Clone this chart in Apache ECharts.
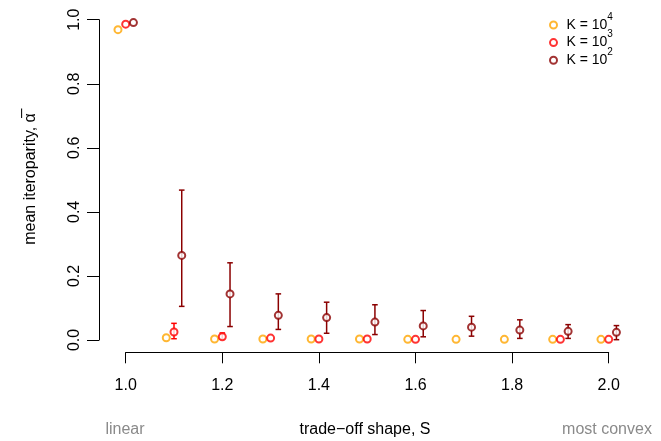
<!DOCTYPE html>
<html>
<head>
<meta charset="utf-8">
<script src="https://cdn.jsdelivr.net/npm/echarts@6/dist/echarts.min.js"></script>
<style>html,body{margin:0;padding:0;background:#fff}#c{width:661px;height:441px}</style>
</head>
<body>
<div id="c"></div>
<script>
// trade-off shape S
const shapeS = [1.0, 1.1, 1.2, 1.3, 1.4, 1.5, 1.6, 1.7, 1.8, 1.9, 2.0];
// K = 10^4 (orange)
const k4Mean = [0.969, 0.007, 0.003, 0.003, 0.003, 0.003, 0.002, 0.002, 0.002, 0.002, 0.002];
// K = 10^3 (red)
const k3Mean = [0.986, 0.025, 0.010, 0.006, 0.003, 0.003, 0.002, null, null, 0.002, 0.002];
const k3Lo   = [null, 0.004, 0.003, null, null, null, null, null, null, null, null];
const k3Hi   = [null, 0.052, 0.022, null, null, null, null, null, null, null, null];
// K = 10^2 (dark red)
const k2Mean = [0.991, 0.264, 0.144, 0.077, 0.070, 0.056, 0.044, 0.040, 0.031, 0.027, 0.024];
const k2Lo   = [null, 0.105, 0.042, 0.033, 0.021, 0.017, 0.010, 0.012, 0.005, 0.005, 0.001];
const k2Hi   = [null, 0.468, 0.241, 0.144, 0.118, 0.110, 0.092, 0.074, 0.063, 0.048, 0.045];
const xTicks = [1.0, 1.2, 1.4, 1.6, 1.8, 2.0];
const yTicks = [0.0, 0.2, 0.4, 0.6, 0.8, 1.0];
const legendNames = ['K4', 'K3', 'K2'];
const legendExp = {K4: '4', K3: '3', K2: '2'};

const dodge = {K4: -0.016, K3: 0, K2: 0.016};
const colors = {K4: '#FFA500', K3: '#FF0000', K2: '#8B0000'};

function pts(name, arr) {
  const out = [];
  arr.forEach((v, i) => { if (v !== null) out.push([shapeS[i] + dodge[name], v]); });
  return out;
}
function bars(name, lo, hi) {
  const out = [];
  lo.forEach((v, i) => { if (v !== null && hi[i] !== null) out.push([shapeS[i] + dodge[name], v, hi[i]]); });
  return out;
}
function errSeries(name, lo, hi) {
  return {
    type: 'custom', name: name + '_err', clip: false, z: 1, silent: true,
    xAxisIndex: 0, yAxisIndex: 0,
    data: bars(name, lo, hi),
    renderItem: function (params, api) {
      const x = api.value(0);
      const a = api.coord([x, api.value(1)]);
      const b = api.coord([x, api.value(2)]);
      const st = {stroke: colors[name], lineWidth: 1.5};
      const cw = 2.8;
      return {type: 'group', children: [
        {type: 'line', shape: {x1: a[0], y1: a[1], x2: b[0], y2: b[1]}, style: st},
        {type: 'line', shape: {x1: a[0] - cw, y1: a[1], x2: a[0] + cw, y2: a[1]}, style: st},
        {type: 'line', shape: {x1: b[0] - cw, y1: b[1], x2: b[0] + cw, y2: b[1]}, style: st}
      ]};
    }
  };
}
function ptSeries(name, arr) {
  return {
    type: 'scatter', name: name, clip: false, z: 3,
    xAxisIndex: 0, yAxisIndex: 0,
    symbol: 'emptyCircle', symbolSize: 7,
    itemStyle: {color: colors[name], borderColor: colors[name], borderWidth: 1.5},
    data: pts(name, arr)
  };
}

const font = 'Liberation Sans, Arial, Helvetica, sans-serif';
const xMin = xTicks[0], xMax = xTicks[xTicks.length - 1];
const chart = echarts.init(document.getElementById('c'), null, {renderer: 'canvas'});
chart.setOption({
  animation: false,
  backgroundColor: '#ffffff',
  grid: [
    {left: 125.7, top: 19.7, width: 483, height: 320.3},
    {left: 125.7, top: 19.7, width: 483, height: 332.6}
  ],
  xAxis: [
    {type: 'value', gridIndex: 0, min: xMin, max: xMax, interval: 0.2, show: false},
    {type: 'value', gridIndex: 1, min: xMin, max: xMax, interval: 0.2,
      axisLine: {show: true, onZero: false, lineStyle: {color: '#000', width: 1}},
      axisTick: {show: true, length: 11, lineStyle: {color: '#000'}},
      splitLine: {show: false},
      axisLabel: {margin: 25, fontSize: 16, color: '#000', fontFamily: font,
        formatter: v => v.toFixed(1)}}
  ],
  yAxis: [
    {type: 'value', gridIndex: 0, min: yTicks[0], max: yTicks[yTicks.length - 1], interval: 0.2,
      offset: 26.7,
      axisLine: {show: true, onZero: false, lineStyle: {color: '#000', width: 1}},
      axisTick: {show: true, length: 12, lineStyle: {color: '#000'}},
      splitLine: {show: false},
      axisLabel: {margin: 16, rotate: 90, fontSize: 16, color: '#000', fontFamily: font,
        formatter: v => v.toFixed(1)}},
    {type: 'value', gridIndex: 1, min: 0, max: 1, show: false}
  ],
  legend: {
    data: legendNames, orient: 'vertical', left: 544, top: 7,
    itemWidth: 16, itemHeight: 7, itemGap: -2.4, symbolKeepAspect: true,
    formatter: n => 'K = 10{s|' + legendExp[n] + '}',
    textStyle: {fontSize: 14, color: '#000', fontFamily: font, lineHeight: 14,
      rich: {s: {fontSize: 10, fontFamily: font, color: '#000', verticalAlign: 'top', lineHeight: 14, padding: [-6, 0, 0, 0]}}}
  },
  series: [
    errSeries('K3', k3Lo, k3Hi),
    errSeries('K2', k2Lo, k2Hi),
    ptSeries('K4', k4Mean),
    ptSeries('K3', k3Mean),
    ptSeries('K2', k2Mean)
  ],
  graphic: [
    {type: 'text', x: 31, y: 179, rotation: Math.PI / 2,
      style: {text: 'mean iteroparity, \u03B1\u0305', font: '16px ' + font, fill: '#000', textAlign: 'center', textVerticalAlign: 'middle'}},
    {type: 'text', x: 365, y: 430,
      style: {text: 'trade\u2212off shape, S', font: '16px ' + font, fill: '#000', textAlign: 'center', textVerticalAlign: 'middle'}},
    {type: 'text', x: 125, y: 430,
      style: {text: 'linear', font: '16px ' + font, fill: '#8a8a8a', textAlign: 'center', textVerticalAlign: 'middle'}},
    {type: 'text', x: 607, y: 430,
      style: {text: 'most convex', font: '16px ' + font, fill: '#8a8a8a', textAlign: 'center', textVerticalAlign: 'middle'}}
  ]
});
</script>
</body>
</html>
